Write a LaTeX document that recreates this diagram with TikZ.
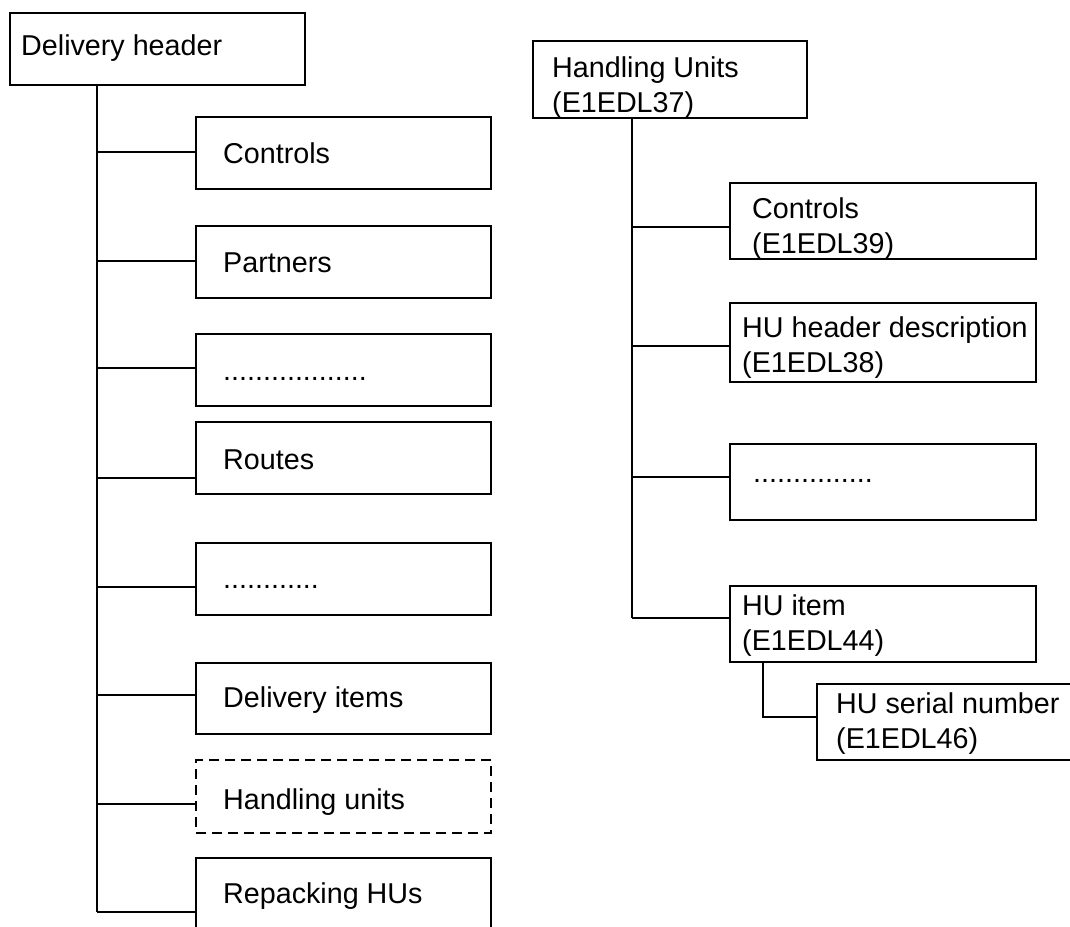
\documentclass[tikz,border=0pt]{standalone}
\usepackage{fontspec}
\setmainfont{Liberation Sans}
\newcommand\twolines[2]{\vtop{\hbox{#1}\hbox{#2}}}
\begin{document}
\begin{tikzpicture}[x=1pt,y=-1pt,
  box/.style={draw, rectangle, line width=2.7pt, inner sep=0pt},
  dbox/.style={box, dash pattern=on 10pt off 6pt},
  txt/.style={anchor=base west, inner sep=0pt, font=\fontsize{28.7}{35}\selectfont},
  conn/.style={line width=2.4pt}]
\useasboundingbox (0,0) rectangle (1070,926);
\clip (0,0) rectangle (1070,926);

% ---------- left tree ----------
\node[box, minimum width=295pt, minimum height=72pt] (hdr) at (157.5,49) {};
\node[txt] (hdrt) at (21,55) {Delivery header};

\node[box, minimum width=295pt, minimum height=72pt] (ctl) at (343.5,153) {};
\node[txt] (ctlt) at (223,163.3) {Controls};
\node[box, minimum width=295pt, minimum height=72pt] (par) at (343.5,262) {};
\node[txt] (part) at (223,272.5) {Partners};
\node[box, minimum width=295pt, minimum height=72pt] (dta) at (343.5,370) {};
\node[txt] (dtat) at (223,380) {..................};
\node[box, minimum width=295pt, minimum height=72pt] (rou) at (343.5,458) {};
\node[txt] (rout) at (223,469) {Routes};
\node[box, minimum width=295pt, minimum height=72pt] (dtb) at (343.5,579) {};
\node[txt] (dtbt) at (223,588) {............};
\node[box, minimum width=295pt, minimum height=71pt] (dit) at (343.5,698.5) {};
\node[txt] (ditt) at (223,707) {Delivery items};
\node[dbox, minimum width=295pt, minimum height=73pt] (hun) at (343.5,796.5) {};
\node[txt] (hunt) at (223,809) {Handling units};
\node[box, minimum width=295pt, minimum height=82pt] (rep) at (343.5,899) {};
\node[txt] (rept) at (223,903) {Repacking HUs};

\coordinate (tL) at (97,912);
\draw[conn] (hdr.south -| tL) -- (tL);
\draw[conn] (tL |- 0,152) -- (ctl.west |- 0,152);
\draw[conn] (tL |- 0,261) -- (par.west |- 0,261);
\draw[conn] (tL |- 0,368) -- (dta.west |- 0,368);
\draw[conn] (tL |- 0,478) -- (rou.west |- 0,478);
\draw[conn] (tL |- 0,587) -- (dtb.west |- 0,587);
\draw[conn] (tL |- 0,695) -- (dit.west |- 0,695);
\draw[conn] (tL |- 0,804) -- (hun.west |- 0,804);
\draw[conn] (tL) -- (rep.west |- tL);

% ---------- right tree ----------
\node[box, minimum width=274pt, minimum height=77pt] (hu) at (670,79.5) {};
\node[txt] (hut) at (552,77) {\twolines{Handling Units}{(E1EDL37)}};

\node[box, minimum width=306pt, minimum height=76pt] (cty) at (883,221) {};
\node[txt] (ctyt) at (752,218) {\twolines{Controls}{(E1EDL39)}};
\node[box, minimum width=306pt, minimum height=79pt] (hdd) at (883,342.5) {};
\node[txt] (hddt) at (742,337) {\twolines{HU header description}{(E1EDL38)}};
\node[box, minimum width=306pt, minimum height=76pt] (dtc) at (883,482) {};
\node[txt] (dtct) at (753,482) {...............};
\node[box, minimum width=306pt, minimum height=76pt] (hit) at (883,624) {};
\node[txt] (hitt) at (742,615) {\twolines{HU item}{(E1EDL44)}};
\node[box, minimum width=273pt, minimum height=76pt] (ser) at (953.5,722) {};
\node[txt] (sert) at (836,713) {\twolines{HU serial number}{(E1EDL46)}};

\coordinate (tR) at (632,618);
\draw[conn] (hu.south -| tR) -- (tR);
\draw[conn] (tR |- 0,227) -- (cty.west |- 0,227);
\draw[conn] (tR |- 0,346) -- (hdd.west |- 0,346);
\draw[conn] (tR |- 0,477) -- (dtc.west |- 0,477);
\draw[conn] (tR) -- (hit.west |- tR);
\draw[conn] (hit.south -| 763,0) |- (ser.west |- 0,717);
\end{tikzpicture}
\end{document}
